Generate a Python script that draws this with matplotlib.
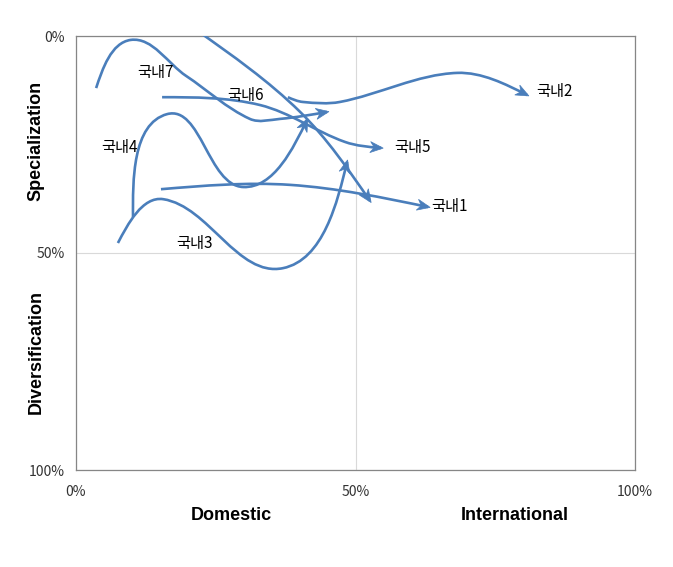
import numpy as np
import matplotlib
matplotlib.use('Agg')
import matplotlib.pyplot as plt
from matplotlib.path import Path
from matplotlib.patches import PathPatch, Polygon

# x: 해외 비중(%), y: 전문화(%) -- 0%가 위쪽
dom1_x = [15.2, 38.3, 63.0]
dom1_y = [35.3, 34.3, 39.4]
dom2_x = [37.9, 40.6, 47.2, 68.2, 80.7]
dom2_y = [14.1, 15.2, 15.2, 8.5, 13.6]
dom3_x = [7.5, 15.6, 37.0, 48.5]
dom3_y = [47.7, 37.6, 53.5, 29.0]
dom4_x = [10.2, 16.3, 29.9, 41.3]
dom4_y = [41.7, 18.0, 34.8, 19.4]
dom5_x = [15.4, 32.9, 48.1, 54.6]
dom5_y = [14.1, 15.9, 24.4, 25.8]
dom6_x = [21.5, 40.1, 52.6]
dom6_y = [-1.4, 17.5, 38.0]
dom7_x = [3.6, 9.8, 19.7, 31.1, 36.5, 44.9]
dom7_y = [12.0, 0.9, 9.2, 19.1, 19.1, 17.5]

series_x = [dom1_x, dom2_x, dom3_x, dom4_x, dom5_x, dom6_x, dom7_x]
series_y = [dom1_y, dom2_y, dom3_y, dom4_y, dom5_y, dom6_y, dom7_y]

names = ['국내1', '국내2', '국내3', '국내4', '국내5', '국내6', '국내7']
label_x = [63.5, 82.3, 18.0, 4.6, 56.9, 27.0, 10.9]
label_y = [39.2, 12.7, 47.7, 25.6, 25.8, 13.8, 8.5]

ticks = [0, 50, 100]
tick_labels = ['0%', '50%', '100%']

color = '#4a7ebb'
W, H = 673, 567

fig = plt.figure(figsize=(W / 100, H / 100), dpi=100)
ax = fig.add_axes([76 / W, 1 - 470 / H, 559 / W, 434 / H])
ax.set_xlim(0, 100)
ax.set_ylim(100, 0)

# 화면 비율 (데이터 1 단위당 픽셀)
sx = 559 / 100
sy = 434 / 100


def unit(v):
    return v / np.hypot(v[0], v[1])


def smooth(xs, ys, k=1 / 3):
    p = np.column_stack([np.array(xs) * sx, np.array(ys) * sy])
    n = len(p)
    d = np.zeros_like(p)
    for i in range(1, n - 1):
        d[i] = unit(p[i + 1] - p[i - 1])
    c0 = unit(p[1] - p[0])
    c1 = unit(p[-1] - p[-2])
    if n > 2:
        d[0] = unit(1.5 * c0 - 0.5 * d[1])
        d[-1] = unit(1.5 * c1 - 0.5 * d[-2])
    else:
        d[0], d[-1] = c0, c1
    verts = [p[0]]
    codes = [Path.MOVETO]
    for i in range(n - 1):
        L = np.hypot(*(p[i + 1] - p[i]))
        verts += [p[i] + d[i] * L * k, p[i + 1] - d[i + 1] * L * k, p[i + 1]]
        codes += [Path.CURVE4] * 3
    verts = np.array(verts) / [sx, sy]
    return Path(verts, codes), p[-1], d[-1]


for xs, ys in zip(series_x, series_y):
    path, end, u = smooth(xs, ys)
    ax.add_patch(PathPatch(path, fill=False, ec=color, lw=1.9,
                           capstyle='butt', joinstyle='round', zorder=3))
    nv = np.array([-u[1], u[0]])
    tip = end + u * 2
    back = end - u * 11
    head = np.array([tip, back + nv * 5.5, end - u * 7, back - nv * 5.5])
    ax.add_patch(Polygon(head / [sx, sy], closed=True, fc=color, ec=color,
                         lw=0.5, zorder=4))

for name, lx, ly in zip(names, label_x, label_y):
    ax.text(lx, ly, name, fontsize=11, family=['Noto Sans CJK KR', 'DejaVu Sans'],
            ha='left', va='center', color='black', zorder=5)

ax.set_xticks(ticks)
ax.set_xticklabels(tick_labels)
ax.set_yticks(ticks)
ax.set_yticklabels(tick_labels)
ax.tick_params(axis='x', length=0, pad=11, labelsize=10, labelcolor='#333333')
ax.tick_params(axis='y', length=0, pad=8, labelsize=10, labelcolor='#333333')
for lab in ax.get_xticklabels() + ax.get_yticklabels():
    lab.set_family('Noto Sans CJK KR')

ax.grid(True, color='#d9d9d9', lw=0.8)
ax.set_axisbelow(True)
for s in ax.spines.values():
    s.set_color('#868686')
    s.set_linewidth(0.9)

fig.text(231 / W, 1 - 515 / H, 'Domestic', fontsize=13, fontweight='bold',
         family='Liberation Sans', ha='center', va='center')
fig.text(515 / W, 1 - 515 / H, 'International', fontsize=13, fontweight='bold',
         family='Liberation Sans', ha='center', va='center')
fig.text(36 / W, 1 - 141 / H, 'Specialization', fontsize=13, fontweight='bold',
         family='Liberation Sans', ha='center', va='center', rotation=90)
fig.text(36 / W, 1 - 352 / H, 'Diversification', fontsize=13, fontweight='bold',
         family='Liberation Sans', ha='center', va='center', rotation=90)

fig.savefig('out.png', dpi=100)
